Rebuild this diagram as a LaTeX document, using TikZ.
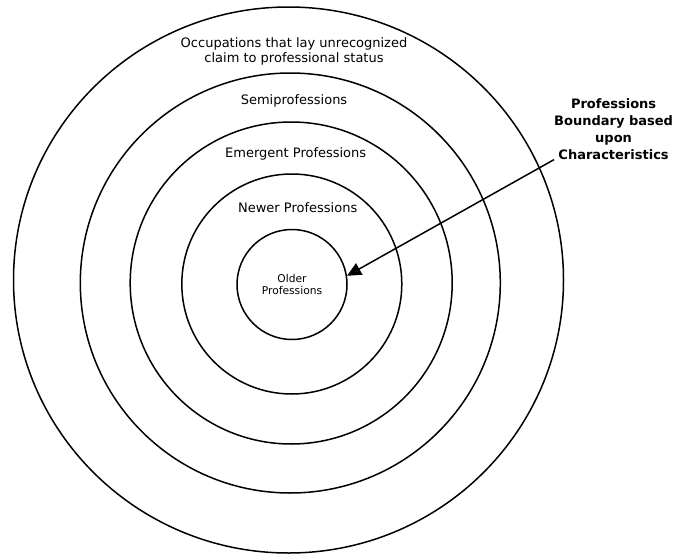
\documentclass[tikz,border=0pt]{standalone}
\usepackage{fontspec}
\setmainfont{DejaVu Sans}
\usetikzlibrary{arrows.meta}
\begin{document}
\begin{tikzpicture}[x=1pt,y=-1pt,
  ring/.style={draw=black, line width=1.5pt},
  lab/.style={font=\fontsize{13}{15.4}\selectfont, align=center, inner sep=0pt},
  boldlab/.style={font=\fontsize{13}{16.8}\selectfont\bfseries, align=center, inner sep=0pt},
  core/.style={draw=black, line width=1.5pt, circle, minimum size=110pt, inner sep=0pt,
    font=\fontsize{10.7}{12.6}\selectfont, align=center}]
\useasboundingbox (0,0) rectangle (673,560);
% rings
\draw[ring] (288.5,280) ellipse [x radius=275, y radius=273];
\draw[ring] (290.3,283) circle [radius=210];
\draw[ring] (291.2,283) circle [radius=161];
\draw[ring] (291.8,284) circle [radius=110];
\node[core] (older) at (292,284.5) {Older\\Professions};
% labels
\node[lab] (occ) at (294,51.5) {Occupations that lay unrecognized\\claim to professional status};
\node[lab] (semi) at (294,100.5) {Semiprofessions};
\node[lab] (emer) at (295.7,154) {Emergent Professions};
\node[lab] (newer) at (297.7,208) {Newer Professions};
\node[boldlab] (lbl) at (613.6,129.2) {Professions\\Boundary based\\upon\\Characteristics};
% arrow
\draw[line width=1.5pt, -{Triangle[length=14pt,width=13pt]}] (lbl.south west) -- (older.9);
\end{tikzpicture}
\end{document}
